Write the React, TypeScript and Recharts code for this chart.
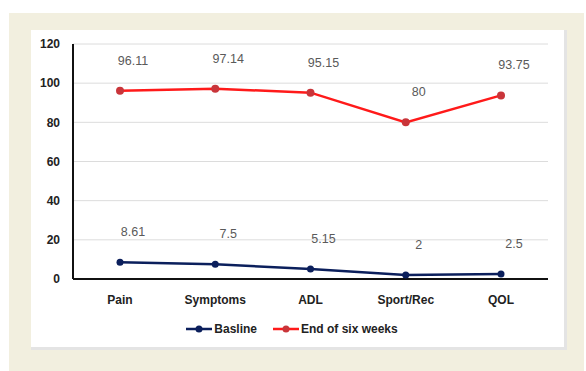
import { LineChart, Line, XAxis, YAxis, CartesianGrid, Legend, LabelList } from 'recharts'

const categories = ['Pain', 'Symptoms', 'ADL', 'Sport/Rec', 'QOL']
const baseline = [8.61, 7.5, 5.15, 2, 2.5]
const sixWeeks = [96.11, 97.14, 95.15, 80, 93.75]
const yTicks = [0, 20, 40, 60, 80, 100, 120]

const data = categories.map((c, i) => ({
  name: c,
  Basline: baseline[i],
  'End of six weeks': sixWeeks[i],
}))

const FONT = '"Liberation Sans", Arial, sans-serif'
const NAVY = '#0b1f5c'
const RED = '#ff1a1a'
const RED_DOT = '#c9353a'

function LegendContent() {
  const items = [
    { label: 'Basline', line: NAVY, dot: NAVY },
    { label: 'End of six weeks', line: RED, dot: RED_DOT },
  ]
  return (
    <div style={{ display: 'flex', justifyContent: 'center', paddingRight: 14, fontFamily: FONT, fontWeight: 700, fontSize: 12, color: '#222' }}>
      {items.map((it, i) => (
        <div key={it.label} style={{ display: 'flex', alignItems: 'center', marginLeft: i ? 16 : 0 }}>
          <svg width={26} height={10} style={{ marginRight: 2 }}>
            <line x1={0} y1={5} x2={26} y2={5} stroke={it.line} strokeWidth={2.5} />
            <circle cx={13} cy={5} r={3.5} fill={it.dot} />
          </svg>
          <span>{it.label}</span>
        </div>
      ))}
    </div>
  )
}

// data labels sit above and a bit to the right of each point, like the Excel original
function PointLabel(props: any) {
  const { x, y, value } = props
  return (
    <text x={x + 13} y={y - 26} textAnchor="middle" fill="#5a5a5a" fontSize={12.5} fontFamily={FONT}>
      {value}
    </text>
  )
}

export default function App() {
  return (
    <div style={{ position: 'absolute', left: 0, top: 0, width: 586, height: 371, background: '#fff', overflow: 'hidden' }}>
      <div style={{ position: 'absolute', left: 9, top: 13, width: 575, height: 370, background: '#f2efdf' }} />
      <div style={{ position: 'absolute', left: 31, top: 30, width: 533, height: 317, background: '#fff', borderRight: '3px solid #e4e4e4', borderBottom: '3px solid #e4e4e4' }}>
        <LineChart width={536} height={320} data={data} margin={{ top: 14, right: 19, left: 0, bottom: 21 }}>
          <CartesianGrid vertical={false} stroke="#dcdcdc" />
          <XAxis
            dataKey="name"
            height={30}
            padding={{ left: 47, right: 47 }}
            tickLine={false}
            tickMargin={10}
            axisLine={{ stroke: '#111', strokeWidth: 2 }}
            tick={{ fill: '#222', fontSize: 12, fontWeight: 700, fontFamily: FONT }}
          />
          <YAxis
            width={42}
            domain={[0, 120]}
            ticks={yTicks}
            tickLine={false}
            tickMargin={7}
            axisLine={{ stroke: '#111', strokeWidth: 2 }}
            tick={{ fill: '#222', fontSize: 12, fontWeight: 700, fontFamily: FONT }}
          />
          <Legend content={<LegendContent />} wrapperStyle={{ top: 292, left: 0, width: 536, height: 20 }} />
          <Line
            dataKey="Basline"
            stroke={NAVY}
            strokeWidth={2.5}
            dot={{ r: 3.5, fill: NAVY, stroke: 'none' }}
            isAnimationActive={false}
          >
            <LabelList dataKey="Basline" content={<PointLabel />} />
          </Line>
          <Line
            dataKey="End of six weeks"
            stroke={RED}
            strokeWidth={2.5}
            dot={{ r: 4, fill: RED_DOT, stroke: 'none' }}
            isAnimationActive={false}
          >
            <LabelList dataKey="End of six weeks" content={<PointLabel />} />
          </Line>
        </LineChart>
      </div>
    </div>
  )
}
